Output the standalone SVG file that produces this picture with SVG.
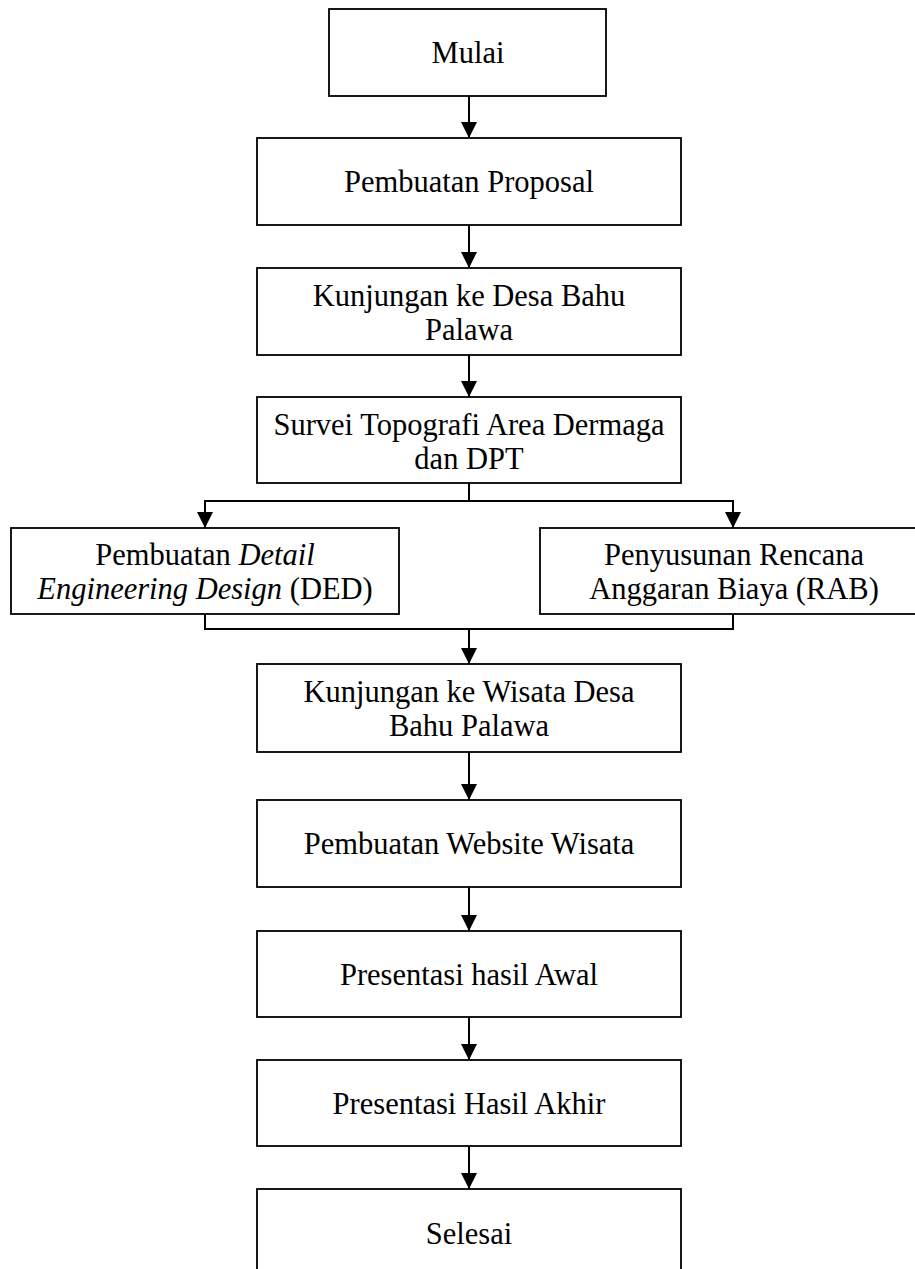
<svg xmlns="http://www.w3.org/2000/svg" width="915" height="1269" viewBox="0 0 915 1269">
<style>
.box{fill:#fff;stroke:#000;stroke-width:1.8}
.t{font-family:"Liberation Serif","Times New Roman",serif;font-size:30.5px;fill:#000;text-anchor:middle}
.c{fill:none;stroke:#000;stroke-width:2}
.i{font-style:italic}
</style>
<defs>
<marker id="ah" markerUnits="userSpaceOnUse" markerWidth="16" markerHeight="16" refX="16" refY="8" orient="auto">
<path d="M0,0 L16,8 L0,16 z" fill="#000"/>
</marker>
</defs>
<rect width="915" height="1269" fill="#fff"/>
<g id="connectors">
<line class="c" x1="469" y1="96" x2="469" y2="138" marker-end="url(#ah)"/>
<line class="c" x1="469" y1="225" x2="469" y2="268" marker-end="url(#ah)"/>
<line class="c" x1="469" y1="355" x2="469" y2="397" marker-end="url(#ah)"/>
<polyline class="c" points="469,483 469,501"/>
<polyline class="c" points="205,501 733,501"/>
<line class="c" x1="205" y1="500" x2="205" y2="528" marker-end="url(#ah)"/>
<line class="c" x1="733" y1="500" x2="733" y2="528" marker-end="url(#ah)"/>
<polyline class="c" points="205,614 205,629 733,629 733,614"/>
<line class="c" x1="469" y1="629" x2="469" y2="664" marker-end="url(#ah)"/>
<line class="c" x1="469" y1="752" x2="469" y2="800" marker-end="url(#ah)"/>
<line class="c" x1="469" y1="887" x2="469" y2="931" marker-end="url(#ah)"/>
<line class="c" x1="469" y1="1017" x2="469" y2="1060" marker-end="url(#ah)"/>
<line class="c" x1="469" y1="1146" x2="469" y2="1189" marker-end="url(#ah)"/>
</g>
<g id="n-mulai">
<rect class="box" x="329" y="9" width="277" height="87"/>
<text class="t" x="468" y="63">Mulai</text>
</g>
<g id="n-proposal">
<rect class="box" x="257" y="138" width="424" height="87"/>
<text class="t" x="469" y="192">Pembuatan Proposal</text>
</g>
<g id="n-kunjungan-desa">
<rect class="box" x="257" y="268" width="424" height="87"/>
<text class="t" x="469" y="306">Kunjungan ke Desa Bahu</text>
<text class="t" x="469" y="340">Palawa</text>
</g>
<g id="n-survei">
<rect class="box" x="257" y="397" width="424" height="86"/>
<text class="t" x="469" y="435">Survei Topografi Area Dermaga</text>
<text class="t" x="469" y="469">dan DPT</text>
</g>
<g id="n-ded">
<rect class="box" x="11" y="528" width="388" height="86"/>
<text class="t" x="205" y="565">Pembuatan <tspan class="i">Detail</tspan></text>
<text class="t" x="205" y="599"><tspan class="i">Engineering Design</tspan> (DED)</text>
</g>
<g id="n-rab">
<rect class="box" x="540" y="528" width="386" height="86"/>
<text class="t" x="734" y="565">Penyusunan Rencana</text>
<text class="t" x="734" y="599">Anggaran Biaya (RAB)</text>
</g>
<g id="n-kunjungan-wisata">
<rect class="box" x="257" y="664" width="424" height="88"/>
<text class="t" x="469" y="702">Kunjungan ke Wisata Desa</text>
<text class="t" x="469" y="736">Bahu Palawa</text>
</g>
<g id="n-website">
<rect class="box" x="257" y="800" width="424" height="87"/>
<text class="t" x="469" y="854">Pembuatan Website Wisata</text>
</g>
<g id="n-awal">
<rect class="box" x="257" y="931" width="424" height="86"/>
<text class="t" x="469" y="985">Presentasi hasil Awal</text>
</g>
<g id="n-akhir">
<rect class="box" x="257" y="1060" width="424" height="86"/>
<text class="t" x="469" y="1114">Presentasi Hasil Akhir</text>
</g>
<g id="n-selesai">
<rect class="box" x="257" y="1189" width="424" height="88"/>
<text class="t" x="469" y="1244">Selesai</text>
</g>
</svg>
